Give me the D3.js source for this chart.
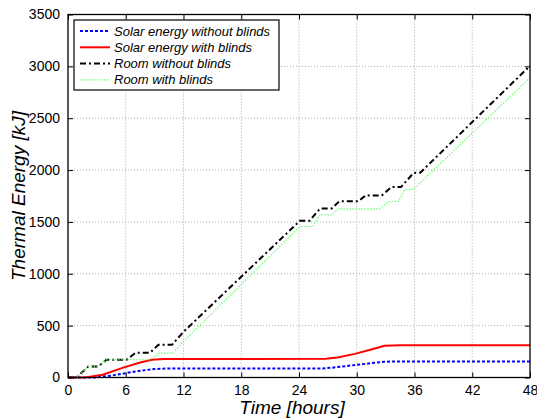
<!DOCTYPE html>
<html>
<head>
<meta charset="utf-8">
<script src="https://cdn.jsdelivr.net/npm/d3@7"></script>
<style>
body { margin:0; background:#fff; }
text { font-family: "Liberation Sans", Arial, sans-serif; }
</style>
</head>
<body>
<svg id="chart" width="537" height="418"></svg>
<script>
// data: [hour, kJ]
var solarNoBlinds = [[0,0],[2.8,0],[4.5,18],[6.2,45],[7.6,66],[9.0,82],[10.5,87],[26.5,87],[27.5,95],[30,122],[32.8,152],[34,154],[48,154]];
var solarBlinds = [[0,0],[1.8,0],[3.6,26],[5.9,100],[7.5,145],[8.7,172],[10,178],[26.8,180],[28,192],[29.8,228],[31.5,270],[32.9,305],[34.5,312],[48,312]];
var roomNoBlinds = [[0,0],[0.9,0],[2.1,106],[3.15,106],[4.0,171],[6.1,171],[7.0,238],[8.5,238],[9.4,315],[10.8,315],[12,440],
  [24.1,1512],[25.1,1512],[26.2,1630],[27.4,1630],[28.2,1700],[30.2,1700],[30.9,1755],[32.6,1755],[33.6,1836],[34.6,1836],
  [35.9,1972],[36.6,1975],[48,3005]];
var roomBlinds = [[0,0],[0.9,0],[2.1,106],[3.15,106],[4.0,171],[8.5,171],[9.5,235],[10.9,235],[12,347],
  [24.1,1456],[25.4,1456],[26.2,1569],[27.4,1569],[28.1,1625],[32.4,1625],[33.3,1697],[34.3,1697],[35.0,1810],[35.9,1815],[48,2890]];
var seriesNames = ["Solar energy without blinds","Solar energy with blinds","Room without blinds","Room with blinds"];
var xTicks = [0,6,12,18,24,30,36,42,48];
var yTicks = [0,500,1000,1500,2000,2500,3000,3500];

var svg = d3.select("#chart");
var pLeft = 68, pRight = 530, pTop = 14.5, pBottom = 377.5;

var x = d3.scaleLinear().domain([0,48]).range([pLeft,pRight]);
var y = d3.scaleLinear().domain([0,3500]).range([pBottom,pTop]);

// grid
var grid = svg.append("g").attr("class","grid");
grid.selectAll("line.gx").data(xTicks.slice(1,-1)).enter().append("line")
    .attr("x1",function(d){return x(d);}).attr("x2",function(d){return x(d);})
    .attr("y1",pTop).attr("y2",pBottom)
    .attr("stroke","#aaa").attr("stroke-width",1).attr("stroke-dasharray","1,2");
grid.selectAll("line.gy").data(yTicks.slice(1,-1)).enter().append("line")
    .attr("y1",function(d){return y(d);}).attr("y2",function(d){return y(d);})
    .attr("x1",pLeft).attr("x2",pRight)
    .attr("stroke","#aaa").attr("stroke-width",1).attr("stroke-dasharray","1,2");

// axes, ticks inside like matlab
var xAxis = d3.axisBottom(x).tickValues(xTicks).tickSizeInner(-5).tickSizeOuter(0).tickPadding(8);
var yAxis = d3.axisLeft(y).tickValues(yTicks).tickSizeInner(-5).tickSizeOuter(0).tickPadding(8).tickFormat(d3.format("d"));
var gx = svg.append("g").attr("transform","translate(0,"+pBottom+")").call(xAxis);
var gy = svg.append("g").attr("transform","translate("+pLeft+",0)").call(yAxis);
var gxt = svg.append("g").attr("transform","translate(0,"+pTop+")")
    .call(d3.axisTop(x).tickValues(xTicks).tickSizeInner(-5).tickSizeOuter(0).tickFormat(""));
var gyr = svg.append("g").attr("transform","translate("+pRight+",0)")
    .call(d3.axisRight(y).tickValues(yTicks).tickSizeInner(-5).tickSizeOuter(0).tickFormat(""));
[gx,gy,gxt,gyr].forEach(function(g){
    g.select(".domain").remove();
    g.selectAll("line").attr("stroke","#000");
    g.selectAll("text").attr("font-size","14px").attr("fill","#000")
        .style("font-family","'Liberation Sans', Arial, sans-serif");
});

// lines
var line = d3.line().x(function(d){return x(d[0]);}).y(function(d){return y(d[1]);});
var styles = [
    {data:solarNoBlinds, color:"#0000ff", width:2, dash:"3,2"},
    {data:solarBlinds, color:"#ff0000", width:2, dash:null},
    {data:roomNoBlinds, color:"#000000", width:2, dash:"6,3,2,3"},
    {data:roomBlinds, color:"#66ff66", width:1.2, dash:"1.5,1.5"}
];
var plot = svg.append("g");
styles.forEach(function(s){
    plot.append("path").datum(s.data)
        .attr("d",line).attr("fill","none")
        .attr("stroke",s.color).attr("stroke-width",s.width)
        .attr("stroke-dasharray",s.dash);
});

// box
svg.append("rect").attr("x",pLeft).attr("y",pTop).attr("width",pRight-pLeft).attr("height",pBottom-pTop)
    .attr("fill","none").attr("stroke","#000").attr("stroke-width",1.3);

// legend
var leg = svg.append("g");
leg.append("rect").attr("x",74).attr("y",20).attr("width",205).attr("height",70)
    .attr("fill","#fff").attr("stroke","#000").attr("stroke-width",1.2);
styles.forEach(function(s,i){
    var ly = 31 + i*16.3;
    leg.append("line").attr("x1",80).attr("x2",110).attr("y1",ly).attr("y2",ly)
        .attr("stroke",s.color).attr("stroke-width",s.width).attr("stroke-dasharray",s.dash);
    leg.append("text").attr("x",114).attr("y",ly+4.5).text(seriesNames[i])
        .attr("font-size","13px").attr("font-style","italic");
});

// axis labels
svg.append("text").attr("x",292).attr("y",414).attr("text-anchor","middle")
    .attr("font-size","19px").attr("font-style","italic").text("Time [hours]");
svg.append("text").attr("transform","translate(25,"+((pTop+pBottom)/2)+") rotate(-90)")
    .attr("text-anchor","middle").attr("font-size","19px").attr("font-style","italic")
    .text("Thermal Energy [kJ]");
</script>
</body>
</html>
